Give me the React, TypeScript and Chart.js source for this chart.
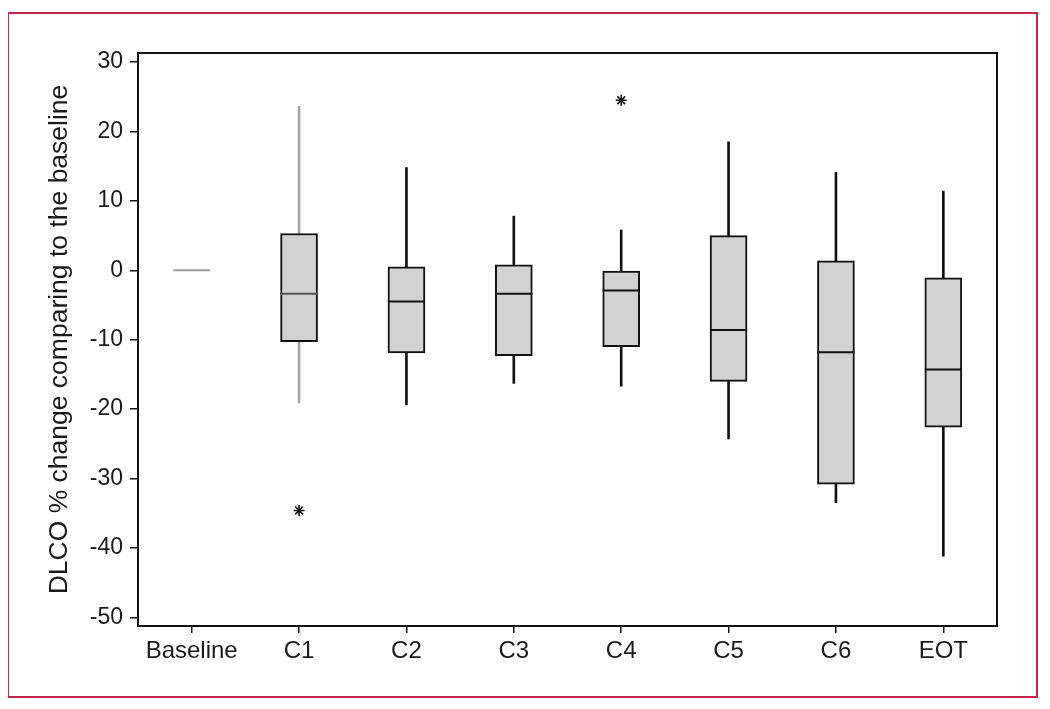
import React, { useEffect, useRef } from "react";
import { Chart, registerables } from "chart.js";
Chart.register(...registerables);

const categories = ["Baseline", "C1", "C2", "C3", "C4", "C5", "C6", "EOT"];
const whiskerLow = [null, -19.1, -19.4, -16.3, -16.7, -24.3, -33.5, -41.2];
const whiskerHigh = [null, 23.6, 14.8, 7.8, 5.8, 18.5, 14.1, 11.4];
const q1 = [null, -10.3, -11.9, -12.3, -11.0, -16.0, -30.8, -22.6];
const q3 = [null, 5.3, 0.5, 0.8, 0.0, 5.0, 1.35, -1.1];
const medians = [0, -3.4, -4.5, -3.4, -2.9, -8.6, -11.8, -14.3];
const outliers = [null, -34.6, null, null, 24.5, null, null, null];
const yTicks = [30, 20, 10, 0, -10, -20, -30, -40, -50];

const whiskerColors = ["#999999", "#a6a6a6", "#111111", "#111111", "#111111", "#111111", "#111111", "#111111"];
const medianColors = ["#9c9c9c", "#555555", "#111111", "#111111", "#111111", "#111111", "#111111", "#111111"];

const FONT = "'Liberation Sans', Arial, Helvetica, sans-serif";

const framePlugin = {
  id: "frame",
  afterDatasetsDraw(chart: any) {
    const { ctx, chartArea } = chart;
    ctx.save();
    ctx.strokeStyle = "#111111";
    ctx.lineWidth = 2;
    ctx.strokeRect(chartArea.left, chartArea.top, chartArea.right - chartArea.left, chartArea.bottom - chartArea.top);
    ctx.restore();
  },
};

export default function App() {
  const ref = useRef<HTMLCanvasElement | null>(null);
  useEffect(() => {
    if (!ref.current) return;
    const whiskers = categories.map((_, i) =>
      whiskerLow[i] === null ? null : [whiskerLow[i], whiskerHigh[i]]
    );
    const boxes = categories.map((_, i) => (q1[i] === null ? null : [q1[i], q3[i]]));
    const chart = new Chart(ref.current, {
      type: "bar",
      data: {
        labels: categories,
        datasets: [
          {
            type: "bar",
            label: "whiskers",
            data: whiskers as any,
            backgroundColor: whiskerColors,
            borderWidth: 0,
            barThickness: 2,
            grouped: false,
            order: 4,
          } as any,
          {
            type: "bar",
            label: "box",
            data: boxes as any,
            backgroundColor: "#d2d2d2",
            borderColor: "#111111",
            borderWidth: 2,
            borderSkipped: false,
            barThickness: 37,
            grouped: false,
            order: 3,
          } as any,
          {
            type: "line",
            label: "median",
            data: medians,
            showLine: false,
            pointStyle: "line",
            pointRadius: 18.5,
            pointHoverRadius: 18.5,
            pointBorderWidth: 2,
            pointBorderColor: medianColors,
            order: 2,
          } as any,
          {
            type: "line",
            label: "outliers",
            data: outliers as any,
            showLine: false,
            pointStyle: "star",
            pointRadius: 5.5,
            pointBorderWidth: 1.6,
            pointBorderColor: "#111111",
            order: 1,
          } as any,
        ],
      },
      options: {
        animation: false,
        responsive: false,
        events: [],
        layout: { padding: { top: 39, right: 39, bottom: 0, left: 0 } },
        plugins: { legend: { display: false }, tooltip: { enabled: false } },
        scales: {
          x: {
            type: "category",
            offset: true,
            border: { display: false },
            grid: {
              display: true,
              drawOnChartArea: false,
              drawTicks: true,
              tickLength: 7,
              color: "#111111",
              lineWidth: 1.5,
              offset: false,
            },
            ticks: {
              color: "#1a1a1a",
              font: { family: FONT, size: 24 },
              padding: 4,
              maxRotation: 0,
              autoSkip: false,
            },
            afterFit(scale: any) {
              scale.height = 70;
            },
          },
          y: {
            min: -51.25,
            max: 31.3,
            border: { display: false },
            grid: {
              display: true,
              drawOnChartArea: false,
              drawTicks: true,
              tickLength: 8,
              color: "#111111",
              lineWidth: 1.5,
            },
            ticks: {
              color: "#1a1a1a",
              font: { family: FONT, size: 23 },
              padding: 7,
              includeBounds: false,
            },
            afterBuildTicks(scale: any) {
              scale.ticks = yTicks.map((v) => ({ value: v }));
            },
            afterFit(scale: any) {
              scale.width = 129;
            },
            title: {
              display: true,
              text: "DLCO % change comparing to the baseline",
              color: "#1a1a1a",
              font: { family: FONT, size: 26.5, lineHeight: 1.2 },
              padding: { top: 35, bottom: 0 },
            },
          },
        },
      } as any,
      plugins: [framePlugin],
    });
    return () => chart.destroy();
  }, []);

  return (
    <div style={{ paddingTop: 4, paddingBottom: 4 }}>
      <div
        style={{
          marginLeft: -1,
          width: 1027,
          height: 682,
          border: "2px solid #c8224c",
          background: "#ffffff",
        }}
      >
        <canvas ref={ref} width={1027} height={682} style={{ display: "block" }} />
      </div>
    </div>
  );
}
